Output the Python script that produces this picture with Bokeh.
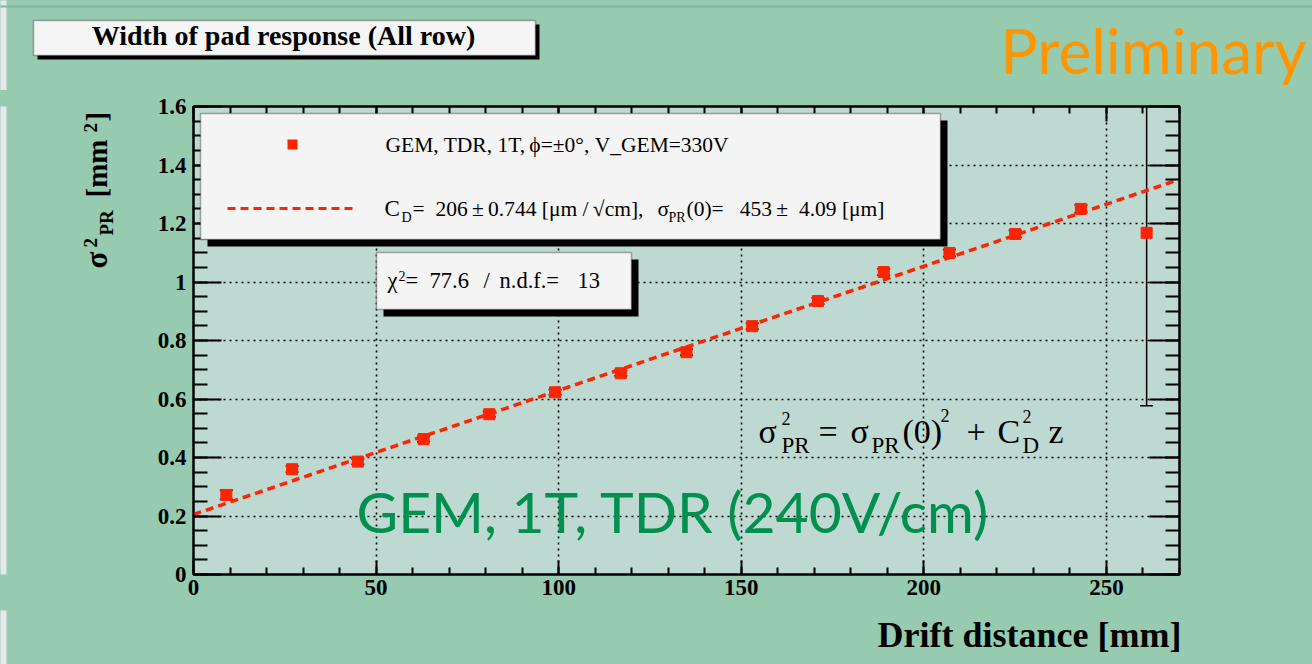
import numpy as np
from bokeh.plotting import figure
from bokeh.layouts import column, row
from bokeh.models import Range1d, FixedTicker, LinearAxis, BoxAnnotation, Label, Arrow
from bokeh.embed import file_html
from bokeh.resources import INLINE

# ---------------- data ----------------
drift_mm = [9, 27, 45, 63, 81, 99, 117, 135, 153, 171, 189, 207, 225, 243, 261]
sigma2_pr = [0.272, 0.360, 0.386, 0.463, 0.548, 0.623, 0.688, 0.760, 0.849,
             0.935, 1.034, 1.099, 1.164, 1.250, 1.168]
sigma2_err = [0.016, 0.010, 0.009, 0.009, 0.009, 0.009, 0.009, 0.010, 0.010,
              0.011, 0.011, 0.012, 0.012, 0.013, 0.591]
fit_cd_um_sqrtcm = 206.0
fit_sigma0_um = 453.0
fit_range = [0, 270]
x_ticks = [0, 50, 100, 150, 200, 250]
y_ticks = [0, 0.2, 0.4, 0.6, 0.8, 1.0, 1.2, 1.4, 1.6]
y_tick_labels = {0: "0", 1: "1"}

# ---------------- page layout (absolute page pixels) ----------------
W, H = 1312, 664
TOP_H = 90           # header strip
LEFT_W = 140         # y-title strip
BOT_Y = 610          # footer strip starts here
FL, FR, FT, FB = 193, 1179, 106, 574   # plot frame on the page
XMAX, YMAX = 270.0, 1.6

OUTER = "#96cbb0"
INNER = "#bdd9d1"
RED = "#ff2400"
SERIF = "Liberation Serif"
NB = "\u00a0"
BASE_K = {SERIF: 0.35, "Lato": 0.41}   # anchor-to-baseline correction (em)


class Canvas:
    """Maps absolute page pixels to a figure's data coordinates."""
    def __init__(self, fig, fx, fy):
        self.f, self.fx, self.fy = fig, fx, fy

    def X(self, px):
        return self.fx(px)

    def Y(self, py):
        return self.fy(py)

    def box(self, l, t, r, b, fill, line="black", lw=1.5, shadow=0):
        if shadow:
            self.f.add_layout(BoxAnnotation(
                left=self.X(l + shadow), right=self.X(r + shadow),
                top=self.Y(t + shadow), bottom=self.Y(b + shadow),
                fill_color="black", fill_alpha=1, line_color=None))
        self.f.add_layout(BoxAnnotation(
            left=self.X(l), right=self.X(r), top=self.Y(t), bottom=self.Y(b),
            fill_color=fill, fill_alpha=1, line_color=line, line_width=lw))

    def txt(self, px, py, s, size, bold=False, color="black", font=SERIF,
            align="left", rotated=False):
        k = BASE_K.get(font, 0.35) * size
        if rotated:
            px, angle = px - k, np.pi / 2
        else:
            py, angle = py - k, 0.0
        self.f.add_layout(Label(
            x=self.X(px), y=self.Y(py), text=s, text_font=font,
            text_font_size=f"{size}px",
            text_font_style="bold" if bold else "normal",
            text_color=color, text_align=align,
            text_baseline="alphabetic", angle=angle))


def helper(x0, y0, w, h, ft=None, fb=None):
    """Blank figure; its frame spans page rows ft..fb (default: whole canvas)."""
    ft = y0 if ft is None else ft
    fb = y0 + h if fb is None else fb
    f = figure(width=w, height=h, output_backend="svg", toolbar_location=None,
               x_range=Range1d(0, w), y_range=Range1d(0, fb - ft),
               min_border_left=0, min_border_right=0,
               min_border_top=ft - y0, min_border_bottom=y0 + h - fb,
               x_axis_type=None, y_axis_type=None, title=None,
               margin=(0, 0, 0, 0))
    f.outline_line_color = None
    f.background_fill_color = OUTER
    f.border_fill_color = OUTER
    c = Canvas(f, lambda px: px - x0, lambda py: fb - py)
    c.box(-2, y0 - 2, 6, y0 + h + 2, "#e7e7ec", line=None, lw=0)
    return c


# ---------------- main plot ----------------
MAIN_W, MAIN_H = W - LEFT_W, BOT_Y - TOP_H
p = figure(width=MAIN_W, height=MAIN_H, output_backend="svg", toolbar_location=None,
           x_range=Range1d(0, XMAX), y_range=Range1d(0, YMAX),
           min_border_left=FL - LEFT_W, min_border_right=W - FR,
           min_border_top=FT - TOP_H, min_border_bottom=BOT_Y - FB, title=None,
           margin=(0, 0, 0, 0))
p.background_fill_color = INNER
p.border_fill_color = OUTER
p.outline_line_color = "black"
p.outline_line_width = 2

xt = FixedTicker(ticks=x_ticks, minor_ticks=list(np.arange(0, 271, 10)))
yt = FixedTicker(ticks=y_ticks, minor_ticks=list(np.round(np.arange(0, 1.6001, 0.05), 3)))


def style_axis(ax, tin, minin, labels=True):
    ax.axis_line_width = 2
    ax.axis_line_color = "black"
    ax.major_tick_line_width = 2
    ax.minor_tick_line_width = 2
    ax.major_tick_in = tin
    ax.major_tick_out = 0
    ax.minor_tick_in = minin
    ax.minor_tick_out = 0
    if labels:
        ax.major_label_text_font = SERIF
        ax.major_label_text_font_style = "bold"
        ax.major_label_text_font_size = "23px"
        ax.major_label_text_color = "black"
    else:
        ax.major_label_text_font_size = "1px"
        ax.major_label_text_color = None
        ax.major_label_standoff = 0


xa = p.xaxis[0]
xa.ticker = xt
style_axis(xa, 14, 7)
xa.major_label_standoff = 5
ya = p.yaxis[0]
ya.ticker = yt
style_axis(ya, 28, 14)
ya.major_label_standoff = 7
ya.major_label_overrides = y_tick_labels

ra = LinearAxis(ticker=yt)
style_axis(ra, 30, 14, labels=False)
p.add_layout(ra, "right")
ta = LinearAxis(ticker=xt)
style_axis(ta, 15, 7, labels=False)
p.add_layout(ta, "above")

for g, t in ((p.xgrid[0], xt), (p.ygrid[0], yt)):
    g.ticker = t
    g.grid_line_color = "black"
    g.grid_line_dash = "2 4"
    g.grid_line_width = 1.6

x = np.array(drift_mm, dtype=float)
y = np.array(sigma2_pr)
e = np.array(sigma2_err)
p.segment(x0=x, y0=y - e, x1=x, y1=y + e, line_color="black", line_width=1.5)
p.scatter(x, y - e, marker="dash", size=13, line_color="black", line_width=1.5)
p.scatter(x, y + e, marker="dash", size=13, line_color="black", line_width=1.5)
p.scatter(x, y, marker="square", size=11, fill_color=RED, line_color=RED)

zf = np.array(fit_range, dtype=float)
s0 = (fit_sigma0_um / 1000.0) ** 2             # mm^2
cd2 = (fit_cd_um_sqrtcm / 1000.0) ** 2 / 10.0  # mm^2 per mm
p.line(zf, s0 + cd2 * zf, line_color=RED, line_width=3.5, line_dash="8 5")

m = Canvas(p, lambda px: (px - FL) / (FR - FL) * XMAX,
           lambda py: (FB - py) / (FB - FT) * YMAX)

# legend box
m.box(200, 113, 940, 239, "#f4f4f4", shadow=7)
m.box(287, 139, 297, 149, RED, line=RED, lw=0)
p.add_layout(Arrow(end=None, x_start=m.X(227), y_start=m.Y(208),
                   x_end=m.X(357), y_end=m.Y(208),
                   line_color=RED, line_width=3, line_dash="8 5"))
m.txt(385, 152, "GEM, TDR, 1T,\u2009\u03d5=\u00b10\u00b0, V_GEM=330V", 21.5)
m.txt(384, 216, "C", 23)
m.txt(401, 222, "D", 14)
m.txt(412, 216, "=" + NB + NB + "206\u2009\u00b1\u20090.744 [\u03bcm /\u2009\u221acm],", 21.5)
m.txt(657, 216, "\u03c3", 21.5)
m.txt(668, 222, "PR", 14)
m.txt(686, 216, "(0)=" + NB + NB + NB + "453\u2009\u00b1" + NB + NB + "4.09 [\u03bcm]", 21.5)

# chi2 box
m.box(376, 252, 631, 309, "#f4f4f4", shadow=7)
m.txt(387, 288, "\u03c7", 22.5)
m.txt(398, 280, "2", 14)
m.txt(405, 288, "=", 22.5)
m.txt(429, 288, "77.6", 22.5)
m.txt(483, 288, "/", 22.5)
m.txt(499, 288, "n.d.f.=", 22.5)
m.txt(577, 288, "13", 22.5)

# formula
m.txt(758, 443, "\u03c3", 34)
m.txt(781, 424, "2", 18)
m.txt(781, 453, "PR", 23)
m.txt(818, 443, "=", 34)
m.txt(850, 443, "\u03c3", 34)
m.txt(871, 453, "PR", 23)
m.txt(902, 443, "(0)", 34)
m.txt(940, 421, "2", 18)
m.txt(966, 443, "+", 34)
m.txt(997, 443, "C", 34)
m.txt(1022, 422, "2", 18)
m.txt(1022, 453, "D", 23)
m.txt(1048, 443, "z", 34)

# green label
m.txt(356, 534, "GEM, 1T, TDR (240V/cm)", 57, color="#00904f", font="Lato")

# ---------------- header ----------------
top = helper(0, 0, W, TOP_H)
top.box(-2, 5, W + 2, 7, "#7db99c", line=None, lw=0)
top.box(33, 20, 535, 55, "#f5f5f5", shadow=4)
top.txt(283, 45, "Width of pad response (All row)", 28, bold=True, align="center")
top.txt(1000, 75, "Preliminary", 62, color="#ff9500", font="Lato")

# ---------------- y title (frame aligned with the plot frame) ----------------
left = helper(0, TOP_H, LEFT_W, MAIN_H, ft=FT, fb=FB)
left.txt(107, 268, "\u03c3", 31, bold=True, rotated=True)
left.txt(97, 247, "2", 19, bold=True, rotated=True)
left.txt(113, 235, "PR", 19, bold=True, rotated=True)
left.txt(107, 197, "[mm", 29, bold=True, rotated=True)
left.txt(97, 132, "2", 19, bold=True, rotated=True)
left.txt(107, 121, "]", 29, bold=True, rotated=True)

# ---------------- x title ----------------
bot = helper(0, BOT_Y, W, H - BOT_Y)
bot.txt(1181, 647, "Drift distance [mm]", 36, bold=True, align="right")

bg = {"background-color": OUTER}
page = column(top.f, row(left.f, p, spacing=0, styles=bg), bot.f,
              spacing=0, styles=bg)
open("out.html", "w").write(file_html(page, INLINE))
